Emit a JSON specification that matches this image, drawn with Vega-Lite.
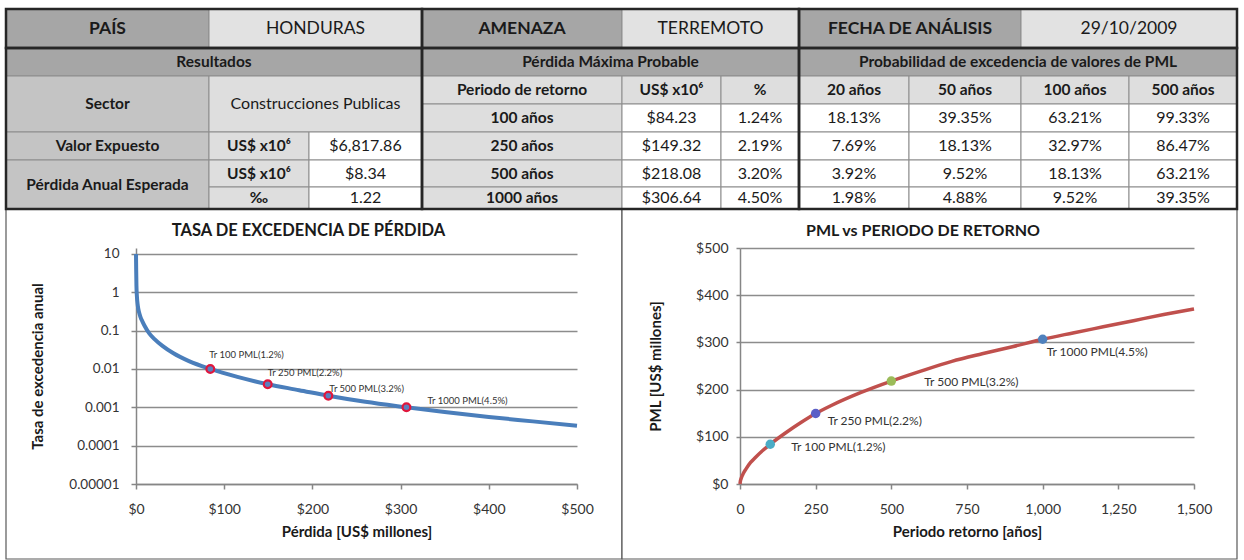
{
  "$schema": "https://vega.github.io/schema/vega-lite/v6.json",
  "background": "white",
  "padding": {"left": 4, "top": 7, "right": 0, "bottom": 0},
  "config": {"font": "Lato", "view": {"stroke": null}},
  "bounds": "flush",
  "spacing": 39,
  "datasets": {
    "cells": [
      {"c0":0,"c1":1,"r0":0,"r1":1,"text":"PAÍS","kind":"h1"},
      {"c0":1,"c1":3,"r0":0,"r1":1,"text":"HONDURAS","kind":"v1"},
      {"c0":3,"c1":4,"r0":0,"r1":1,"text":"AMENAZA","kind":"h1"},
      {"c0":4,"c1":6,"r0":0,"r1":1,"text":"TERREMOTO","kind":"v1"},
      {"c0":6,"c1":8,"r0":0,"r1":1,"text":"FECHA DE ANÁLISIS","kind":"h1"},
      {"c0":8,"c1":10,"r0":0,"r1":1,"text":"29/10/2009","kind":"v1"},
      {"c0":0,"c1":3,"r0":1,"r1":2,"text":"Resultados","kind":"h2"},
      {"c0":3,"c1":6,"r0":1,"r1":2,"text":"Pérdida Máxima Probable","kind":"h2"},
      {"c0":6,"c1":10,"r0":1,"r1":2,"text":"Probabilidad de excedencia de valores de PML","kind":"h2"},
      {"c0":0,"c1":1,"r0":2,"r1":4,"text":"Sector","kind":"lab"},
      {"c0":1,"c1":3,"r0":2,"r1":4,"text":"Construcciones Publicas","kind":"v2"},
      {"c0":3,"c1":4,"r0":2,"r1":3,"text":"Periodo de retorno","kind":"sub"},
      {"c0":4,"c1":5,"r0":2,"r1":3,"text":"US$ x10⁶","kind":"sub"},
      {"c0":5,"c1":6,"r0":2,"r1":3,"text":"%","kind":"sub"},
      {"c0":6,"c1":7,"r0":2,"r1":3,"text":"20 años","kind":"sub"},
      {"c0":7,"c1":8,"r0":2,"r1":3,"text":"50 años","kind":"sub"},
      {"c0":8,"c1":9,"r0":2,"r1":3,"text":"100 años","kind":"sub"},
      {"c0":9,"c1":10,"r0":2,"r1":3,"text":"500 años","kind":"sub"},
      {"c0":3,"c1":4,"r0":3,"r1":4,"text":"100 años","kind":"sub"},
      {"c0":4,"c1":5,"r0":3,"r1":4,"text":"$84.23","kind":"val"},
      {"c0":5,"c1":6,"r0":3,"r1":4,"text":"1.24%","kind":"val"},
      {"c0":6,"c1":7,"r0":3,"r1":4,"text":"18.13%","kind":"val"},
      {"c0":7,"c1":8,"r0":3,"r1":4,"text":"39.35%","kind":"val"},
      {"c0":8,"c1":9,"r0":3,"r1":4,"text":"63.21%","kind":"val"},
      {"c0":9,"c1":10,"r0":3,"r1":4,"text":"99.33%","kind":"val"},
      {"c0":0,"c1":1,"r0":4,"r1":5,"text":"Valor Expuesto","kind":"lab"},
      {"c0":1,"c1":2,"r0":4,"r1":5,"text":"US$ x10⁶","kind":"sub"},
      {"c0":2,"c1":3,"r0":4,"r1":5,"text":"$6,817.86","kind":"val"},
      {"c0":3,"c1":4,"r0":4,"r1":5,"text":"250 años","kind":"sub"},
      {"c0":4,"c1":5,"r0":4,"r1":5,"text":"$149.32","kind":"val"},
      {"c0":5,"c1":6,"r0":4,"r1":5,"text":"2.19%","kind":"val"},
      {"c0":6,"c1":7,"r0":4,"r1":5,"text":"7.69%","kind":"val"},
      {"c0":7,"c1":8,"r0":4,"r1":5,"text":"18.13%","kind":"val"},
      {"c0":8,"c1":9,"r0":4,"r1":5,"text":"32.97%","kind":"val"},
      {"c0":9,"c1":10,"r0":4,"r1":5,"text":"86.47%","kind":"val"},
      {"c0":0,"c1":1,"r0":5,"r1":7,"text":"Pérdida Anual Esperada","kind":"lab"},
      {"c0":1,"c1":2,"r0":5,"r1":6,"text":"US$ x10⁶","kind":"sub"},
      {"c0":2,"c1":3,"r0":5,"r1":6,"text":"$8.34","kind":"val"},
      {"c0":3,"c1":4,"r0":5,"r1":6,"text":"500 años","kind":"sub"},
      {"c0":4,"c1":5,"r0":5,"r1":6,"text":"$218.08","kind":"val"},
      {"c0":5,"c1":6,"r0":5,"r1":6,"text":"3.20%","kind":"val"},
      {"c0":6,"c1":7,"r0":5,"r1":6,"text":"3.92%","kind":"val"},
      {"c0":7,"c1":8,"r0":5,"r1":6,"text":"9.52%","kind":"val"},
      {"c0":8,"c1":9,"r0":5,"r1":6,"text":"18.13%","kind":"val"},
      {"c0":9,"c1":10,"r0":5,"r1":6,"text":"63.21%","kind":"val"},
      {"c0":1,"c1":2,"r0":6,"r1":7,"text":"‰","kind":"sub"},
      {"c0":2,"c1":3,"r0":6,"r1":7,"text":"1.22","kind":"val"},
      {"c0":3,"c1":4,"r0":6,"r1":7,"text":"1000 años","kind":"sub"},
      {"c0":4,"c1":5,"r0":6,"r1":7,"text":"$306.64","kind":"val"},
      {"c0":5,"c1":6,"r0":6,"r1":7,"text":"4.50%","kind":"val"},
      {"c0":6,"c1":7,"r0":6,"r1":7,"text":"1.98%","kind":"val"},
      {"c0":7,"c1":8,"r0":6,"r1":7,"text":"4.88%","kind":"val"},
      {"c0":8,"c1":9,"r0":6,"r1":7,"text":"9.52%","kind":"val"},
      {"c0":9,"c1":10,"r0":6,"r1":7,"text":"39.35%","kind":"val"}
    ],
    "sections": [
      {"c0":0,"c1":3,"r0":0,"r1":1},
      {"c0":0,"c1":3,"r0":1,"r1":7},
      {"c0":3,"c1":6,"r0":0,"r1":1},
      {"c0":3,"c1":6,"r0":1,"r1":7},
      {"c0":6,"c1":10,"r0":0,"r1":1},
      {"c0":6,"c1":10,"r0":1,"r1":7}
    ],
    "frames": [
      {"c0":0,"c1":4,"r0":7,"r1":8},
      {"c0":4,"c1":10,"r0":7,"r1":8}
    ],
    "loss_curve": [
      {"loss":0,"rate":10},{"loss":0.2,"rate":4},{"loss":0.5,"rate":1.5},{"loss":1,"rate":0.8},
      {"loss":2,"rate":0.45},{"loss":3.5,"rate":0.3},{"loss":5,"rate":0.23},{"loss":7.5,"rate":0.17},
      {"loss":10,"rate":0.13},{"loss":15,"rate":0.085},{"loss":21,"rate":0.06},{"loss":30,"rate":0.04},
      {"loss":42,"rate":0.026},{"loss":60,"rate":0.016},{"loss":84.23,"rate":0.01},{"loss":115,"rate":0.0062},
      {"loss":149.32,"rate":0.004},{"loss":185,"rate":0.0028},{"loss":218.08,"rate":0.002},{"loss":260,"rate":0.00139},
      {"loss":306.64,"rate":0.001},{"loss":350,"rate":0.00075},{"loss":400,"rate":0.00056},{"loss":450,"rate":0.00043},
      {"loss":500,"rate":0.00033}
    ],
    "pml_curve": [
      {"tr":0,"pml":0},{"tr":1,"pml":5.3},{"tr":2,"pml":8.1},{"tr":5,"pml":14},{"tr":10,"pml":21.2},
      {"tr":20,"pml":32},{"tr":35,"pml":45.6},{"tr":50,"pml":55.6},{"tr":75,"pml":70.9},{"tr":100,"pml":84.23},
      {"tr":150,"pml":108},{"tr":200,"pml":129.7},{"tr":250,"pml":149.32},{"tr":300,"pml":165.8},{"tr":400,"pml":194},
      {"tr":500,"pml":218.08},{"tr":600,"pml":239.7},{"tr":700,"pml":259.8},{"tr":800,"pml":275.9},{"tr":900,"pml":290.9},
      {"tr":1000,"pml":306.64},{"tr":1100,"pml":320},{"tr":1200,"pml":333},{"tr":1300,"pml":346},{"tr":1400,"pml":359},
      {"tr":1500,"pml":371}
    ],
    "pml_points": [
      {"tr":100,"pml":84.23,"rate":0.01,"label":"Tr 100 PML(1.2%)"},
      {"tr":250,"pml":149.32,"rate":0.004,"label":"Tr 250 PML(2.2%)"},
      {"tr":500,"pml":218.08,"rate":0.002,"label":"Tr 500 PML(3.2%)"},
      {"tr":1000,"pml":306.64,"rate":0.001,"label":"Tr 1000 PML(4.5%)"}
    ]
  },
  "vconcat": [
    {
      "name": "tbl",
      "width": 1101,
      "height": 200,
      "layer": [
        {
          "data": {"name": "frames"},
          "mark": {"type": "rect", "fill": "white", "stroke": "#595959", "strokeWidth": 1.2},
          "encoding": {
            "x": {"field": "c0", "type": "quantitative", "axis": null, "scale": {"domain": [0,1,2,3,4,5,6,7,8,9,10], "range": [-130,73,173,286,486,585,663,773,885,993,1101], "nice": false, "zero": false}},
            "x2": {"field": "c1"},
            "y": {"field": "r0", "type": "quantitative", "axis": null, "scale": {"domain": [0,1,2,3,4,5,6,7,8], "range": [0,39,67,95,123,151,178,200,550], "nice": false, "zero": false}},
            "y2": {"field": "r1"}
          }
        },
        {
          "data": {"name": "cells"},
          "mark": {"type": "rect", "stroke": "#8c8c8c", "strokeWidth": 1},
          "encoding": {
            "x": {"field": "c0", "type": "quantitative", "axis": null},
            "x2": {"field": "c1"},
            "y": {"field": "r0", "type": "quantitative", "axis": null},
            "y2": {"field": "r1"},
            "fill": {"field": "kind", "type": "nominal", "legend": null, "scale": {"domain": ["h1","v1","h2","lab","sub","v2","val"], "range": ["#a6a6a6","#e2e2e2","#a6a6a6","#c4c4c4","#dedede","#dedede","#ffffff"]}}
          }
        },
        {
          "data": {"name": "sections"},
          "mark": {"type": "rect", "fillOpacity": 0, "stroke": "#262626", "strokeWidth": 2.5},
          "encoding": {
            "x": {"field": "c0", "type": "quantitative", "axis": null},
            "x2": {"field": "c1"},
            "y": {"field": "r0", "type": "quantitative", "axis": null},
            "y2": {"field": "r1"}
          }
        },
        {
          "data": {"name": "cells"},
          "transform": [{"filter": "datum.kind === 'h1'"}],
          "mark": {"type": "text", "align": "center", "baseline": "middle", "fontSize": 17.5, "fontWeight": "bold", "color": "#1a1a1a"},
          "encoding": {
            "x": {"value": {"expr": "(scale('tbl_x', datum.c0) + scale('tbl_x', datum.c1)) / 2"}},
            "y": {"value": {"expr": "(scale('tbl_y', datum.r0) + scale('tbl_y', datum.r1)) / 2"}},
            "text": {"field": "text"}
          }
        },
        {
          "data": {"name": "cells"},
          "transform": [{"filter": "datum.kind === 'v1'"}],
          "mark": {"type": "text", "align": "center", "baseline": "middle", "fontSize": 17.5, "fontWeight": "normal", "color": "#1a1a1a"},
          "encoding": {
            "x": {"value": {"expr": "(scale('tbl_x', datum.c0) + scale('tbl_x', datum.c1)) / 2"}},
            "y": {"value": {"expr": "(scale('tbl_y', datum.r0) + scale('tbl_y', datum.r1)) / 2"}},
            "text": {"field": "text"}
          }
        },
        {
          "data": {"name": "cells"},
          "transform": [{"filter": "datum.kind === 'h2' || datum.kind === 'lab' || datum.kind === 'sub'"}],
          "mark": {"type": "text", "align": "center", "baseline": "middle", "fontSize": 15.5, "fontWeight": "bold", "color": "#1a1a1a"},
          "encoding": {
            "x": {"value": {"expr": "(scale('tbl_x', datum.c0) + scale('tbl_x', datum.c1)) / 2"}},
            "y": {"value": {"expr": "(scale('tbl_y', datum.r0) + scale('tbl_y', datum.r1)) / 2"}},
            "text": {"field": "text"}
          }
        },
        {
          "data": {"name": "cells"},
          "transform": [{"filter": "datum.kind === 'v2' || datum.kind === 'val'"}],
          "mark": {"type": "text", "align": "center", "baseline": "middle", "fontSize": 16, "fontWeight": "normal", "color": "#1a1a1a"},
          "encoding": {
            "x": {"value": {"expr": "(scale('tbl_x', datum.c0) + scale('tbl_x', datum.c1)) / 2"}},
            "y": {"value": {"expr": "(scale('tbl_y', datum.r0) + scale('tbl_y', datum.r1)) / 2"}},
            "text": {"field": "text"}
          }
        }
      ]
    },
    {
      "bounds": "flush",
      "spacing": 163,
      "hconcat": [
        {
          "width": 441,
          "height": 236,
          "title": {"text": "TASA DE EXCEDENCIA DE PÉRDIDA", "fontSize": 16.5, "fontWeight": "bold", "color": "#1a1a1a", "offset": 6, "dx": -48},
          "layer": [
            {
              "data": {"name": "loss_curve"},
              "mark": {"type": "line", "color": "#4a7ebb", "strokeWidth": 4, "interpolate": "monotone"},
              "encoding": {
                "x": {"field": "loss", "type": "quantitative", "scale": {"domain": [0, 500], "nice": false},
                  "axis": {"title": "Pérdida [US$ millones]", "values": [0,100,200,300,400,500], "format": "$,.0f", "grid": false,
                    "domainColor": "#868686", "domainWidth": 1.5, "tickColor": "#868686", "tickWidth": 1.5, "tickSize": 5,
                    "labelFontSize": 14, "labelColor": "#333333", "labelPadding": 13, "labelFlush": false,
                    "titleFontSize": 15, "titleFontWeight": "bold", "titleColor": "#1a1a1a", "titlePadding": 8}},
                "y": {"field": "rate", "type": "quantitative", "scale": {"type": "log", "domain": [0.00001, 14.3], "nice": false},
                  "axis": {"title": "Tasa de excedencia anual", "values": [0.00001,0.0001,0.001,0.01,0.1,1,10], "format": ".5~f",
                    "grid": true, "gridColor": "#8c8c8c", "gridWidth": 1.5,
                    "domainColor": "#868686", "domainWidth": 1.5, "tickColor": "#868686", "tickWidth": 1.5, "tickSize": 5,
                    "labelFontSize": 13.5, "labelColor": "#333333", "labelPadding": 12,
                    "titleFontSize": 15, "titleFontWeight": "bold", "titleColor": "#1a1a1a", "titlePadding": 23}}
              }
            },
            {
              "data": {"name": "pml_points"},
              "mark": {"type": "point", "shape": "circle", "filled": true, "fill": "#5b7fbf", "stroke": "#e0163c", "strokeWidth": 2.2, "size": 60, "opacity": 1},
              "encoding": {
                "x": {"field": "pml", "type": "quantitative"},
                "y": {"field": "rate", "type": "quantitative"}
              }
            },
            {
              "data": {"name": "pml_points"},
              "transform": [{"filter": "datum.tr === 100"}],
              "mark": {"type": "text", "align": "left", "baseline": "middle", "fontSize": 9.5, "color": "#333333", "dx": -1, "dy": -14},
              "encoding": {"x": {"field": "pml", "type": "quantitative"}, "y": {"field": "rate", "type": "quantitative"}, "text": {"field": "label"}}
            },
            {
              "data": {"name": "pml_points"},
              "transform": [{"filter": "datum.tr === 250"}],
              "mark": {"type": "text", "align": "left", "baseline": "middle", "fontSize": 9.5, "color": "#333333", "dx": 0, "dy": -11},
              "encoding": {"x": {"field": "pml", "type": "quantitative"}, "y": {"field": "rate", "type": "quantitative"}, "text": {"field": "label"}}
            },
            {
              "data": {"name": "pml_points"},
              "transform": [{"filter": "datum.tr === 500"}],
              "mark": {"type": "text", "align": "left", "baseline": "middle", "fontSize": 9.5, "color": "#333333", "dx": 1, "dy": -7},
              "encoding": {"x": {"field": "pml", "type": "quantitative"}, "y": {"field": "rate", "type": "quantitative"}, "text": {"field": "label"}}
            },
            {
              "data": {"name": "pml_points"},
              "transform": [{"filter": "datum.tr === 1000"}],
              "mark": {"type": "text", "align": "left", "baseline": "middle", "fontSize": 9.5, "color": "#333333", "dx": 21, "dy": -6},
              "encoding": {"x": {"field": "pml", "type": "quantitative"}, "y": {"field": "rate", "type": "quantitative"}, "text": {"field": "label"}}
            }
          ]
        },
        {
          "width": 454,
          "height": 236,
          "title": {"text": "PML vs PERIODO DE RETORNO", "fontSize": 16, "fontWeight": "bold", "color": "#1a1a1a", "offset": 2, "dx": -44},
          "layer": [
            {
              "data": {"name": "pml_curve"},
              "mark": {"type": "line", "color": "#c0504d", "strokeWidth": 3.5, "interpolate": "monotone"},
              "encoding": {
                "x": {"field": "tr", "type": "quantitative", "scale": {"domain": [0, 1500], "nice": false},
                  "axis": {"title": "Periodo  retorno [años]", "values": [0,250,500,750,1000,1250,1500], "format": ",d", "grid": false,
                    "domainColor": "#868686", "domainWidth": 1.5, "tickColor": "#868686", "tickWidth": 1.5, "tickSize": 5,
                    "labelFontSize": 14, "labelColor": "#333333", "labelPadding": 13, "labelFlush": false,
                    "titleFontSize": 15, "titleFontWeight": "bold", "titleColor": "#1a1a1a", "titlePadding": 8}},
                "y": {"field": "pml", "type": "quantitative", "scale": {"domain": [0, 500], "nice": false},
                  "axis": {"title": "PML [US$ millones]", "values": [0,100,200,300,400,500], "format": "$,.0f",
                    "grid": true, "gridColor": "#8c8c8c", "gridWidth": 1.5,
                    "domainColor": "#868686", "domainWidth": 1.5, "tickColor": "#868686", "tickWidth": 1.5, "tickSize": 4,
                    "labelFontSize": 14, "labelColor": "#333333", "labelPadding": 8,
                    "titleFontSize": 15, "titleFontWeight": "bold", "titleColor": "#1a1a1a", "titlePadding": 32}}
              }
            },
            {
              "data": {"name": "pml_points"},
              "mark": {"type": "point", "shape": "circle", "filled": true, "size": 90, "opacity": 1},
              "encoding": {
                "x": {"field": "tr", "type": "quantitative"},
                "y": {"field": "pml", "type": "quantitative"},
                "color": {"field": "label", "type": "nominal", "legend": null,
                  "scale": {"domain": ["Tr 100 PML(1.2%)","Tr 250 PML(2.2%)","Tr 500 PML(3.2%)","Tr 1000 PML(4.5%)"], "range": ["#4bacc6","#5b5fc7","#9bbb59","#4f81bd"]}}
              }
            },
            {
              "data": {"name": "pml_points"},
              "transform": [{"filter": "datum.tr === 100"}],
              "mark": {"type": "text", "align": "left", "baseline": "middle", "fontSize": 12, "color": "#333333", "dx": 21, "dy": 3},
              "encoding": {"x": {"field": "tr", "type": "quantitative"}, "y": {"field": "pml", "type": "quantitative"}, "text": {"field": "label"}}
            },
            {
              "data": {"name": "pml_points"},
              "transform": [{"filter": "datum.tr === 250"}],
              "mark": {"type": "text", "align": "left", "baseline": "middle", "fontSize": 12, "color": "#333333", "dx": 12, "dy": 7},
              "encoding": {"x": {"field": "tr", "type": "quantitative"}, "y": {"field": "pml", "type": "quantitative"}, "text": {"field": "label"}}
            },
            {
              "data": {"name": "pml_points"},
              "transform": [{"filter": "datum.tr === 500"}],
              "mark": {"type": "text", "align": "left", "baseline": "middle", "fontSize": 12, "color": "#333333", "dx": 33, "dy": 1},
              "encoding": {"x": {"field": "tr", "type": "quantitative"}, "y": {"field": "pml", "type": "quantitative"}, "text": {"field": "label"}}
            },
            {
              "data": {"name": "pml_points"},
              "transform": [{"filter": "datum.tr === 1000"}],
              "mark": {"type": "text", "align": "left", "baseline": "middle", "fontSize": 12, "color": "#333333", "dx": 4, "dy": 13},
              "encoding": {"x": {"field": "tr", "type": "quantitative"}, "y": {"field": "pml", "type": "quantitative"}, "text": {"field": "label"}}
            }
          ]
        }
      ]
    }
  ]
}
